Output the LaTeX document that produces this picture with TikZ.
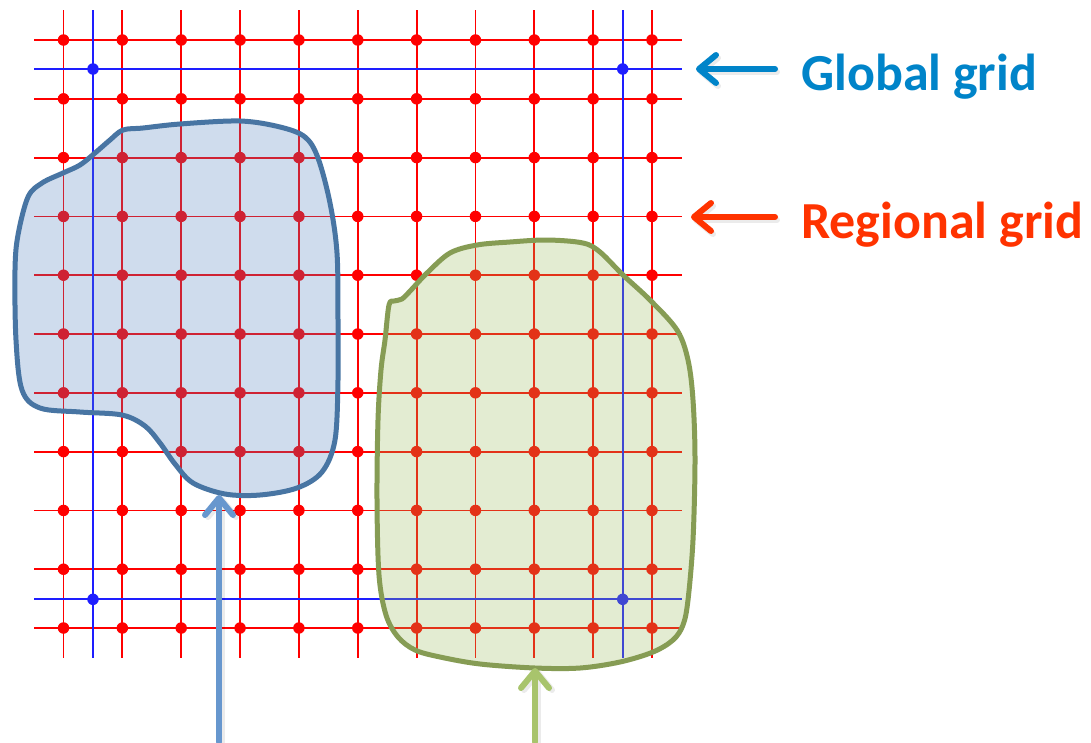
\documentclass[tikz,border=0pt]{standalone}
\usepackage{fontspec}
\setmainfont{Carlito}
\usetikzlibrary{arrows.meta}
\definecolor{gridred}{RGB}{255,0,0}
\definecolor{gridblue}{RGB}{30,30,255}
\definecolor{bluefill}{RGB}{79,129,189}
\definecolor{blueedge}{RGB}{72,117,163}
\definecolor{greenfill}{RGB}{155,187,89}
\definecolor{greenedge}{RGB}{134,156,84}
\definecolor{bluearrow}{RGB}{103,151,206}
\definecolor{greenarrow}{RGB}{168,196,108}
\definecolor{globalcol}{RGB}{0,132,201}
\definecolor{regionalcol}{RGB}{255,51,0}
\tikzset{
  redline/.style={draw=gridred, line width=1.8pt},
  blueline/.style={draw=gridblue, line width=1.8pt},
  reddot/.style={circle, fill=gridred, inner sep=0pt, minimum size=11.5pt},
  bluedot/.style={circle, fill=gridblue, inner sep=0pt, minimum size=11.5pt},
  blob/.style={line width=5pt, line join=round, fill opacity=0.27, draw opacity=1},
  fatarrow/.style={line width=6pt, line cap=round, -{Straight Barb[round, length=17pt, width=28pt]}},
  shadowarrow/.style={fatarrow, draw=black, opacity=0.08},
  label/.style={font=\bfseries\fontsize{52}{58}\selectfont, inner sep=0pt, anchor=base west}
}
\begin{document}
\begin{tikzpicture}[x=1pt, y=-1pt]
\useasboundingbox (0,0) rectangle (1091,742);
\fill[white] (0,0) rectangle (1091,742);
% regional grid lines
\foreach \i in {0,...,10} {
  \pgfmathsetmacro{\gx}{63.5+58.85*\i}
  \pgfmathsetmacro{\gy}{40+58.8*\i}
  \draw[redline] (\gx,10) -- (\gx,658);
  \draw[redline] (34,\gy) -- (682,\gy);
}
% global grid lines
\foreach \g in {93,622.7} {
  \draw[blueline] (\g,10) -- (\g,658);
}
\foreach \g in {69,599.3} {
  \draw[blueline] (34,\g) -- (682,\g);
}
% regional dots
\foreach \i in {0,...,10} {
  \foreach \j in {0,...,10} {
    \pgfmathsetmacro{\gx}{63.5+58.85*\i}
    \pgfmathsetmacro{\gy}{40+58.8*\j}
    \node[reddot] (r\i-\j) at (\gx,\gy) {};
  }
}
% global dots
\node[bluedot] (g1) at (93,69) {};
\node[bluedot] (g2) at (622.7,69) {};
\node[bluedot] (g3) at (93,599.3) {};
\node[bluedot] (g4) at (622.7,599.3) {};
% blue region
\draw[blob, draw=blueedge, fill=bluefill] plot[smooth cycle, tension=0.55] coordinates {
  (123,130) (143,128) (180,124) (240,121) (280,127) (305,137) (318,158)
  (330,203) (337,253) (338,320) (338,380) (335,440) (322,472) (297,488)
  (260,495) (225,494) (193,483) (175,464) (160,443) (145,426) (122,415)
  (80,412) (40,408) (22,390) (16,340) (15,270) (18,235) (28,197) (42,183)
  (63,173) (80,165) (95,153) (110,140)};
% green region
\draw[blob, draw=greenedge, fill=greenfill] plot[smooth cycle, tension=0.55] coordinates {
  (385,340) (389,305) (394,301) (402,299) (412,289) (427,273) (450,253)
  (477,245) (510,242) (547,240) (583,243) (600,252) (623,275) (650,300)
  (677,330) (688,360) (693,400) (695,460) (693,540) (688,600) (683,625)
  (673,640) (653,652) (620,662) (580,668) (535,668) (480,664) (440,657)
  (415,650) (398,637) (386,615) (379,575) (377,500) (378,420) (381,370)};
% labels
\node[label, text=globalcol] (glab) at (801,90) {Global grid};
\node[label, text=regionalcol] (rlab) at (801,238) {Regional grid};
% arrow endpoints
\coordinate (gtail) at (775,69);
\coordinate (gtip) at (696,69);
\coordinate (rtail) at (775,217);
\coordinate (rtip) at (691,217);
\coordinate (btail) at (219,742);
\coordinate (btip) at (219,495);
\coordinate (ntail) at (535,742);
\coordinate (ntip) at (535,668);
% shadows
\draw[shadowarrow] ([shift={(2,3)}]gtail) -- ([shift={(2,3)}]gtip);
\draw[shadowarrow] ([shift={(2,3)}]rtail) -- ([shift={(2,3)}]rtip);
\draw[shadowarrow] ([shift={(3,2)}]btail) -- ([shift={(3,2)}]btip);
\draw[shadowarrow] ([shift={(3,2)}]ntail) -- ([shift={(3,2)}]ntip);
% arrows
\draw[fatarrow, draw=globalcol] (gtail) -- (gtip);
\draw[fatarrow, draw=regionalcol] (rtail) -- (rtip);
\draw[fatarrow, draw=bluearrow] (btail) -- (btip);
\draw[fatarrow, draw=greenarrow] (ntail) -- (ntip);
\end{tikzpicture}
\end{document}
